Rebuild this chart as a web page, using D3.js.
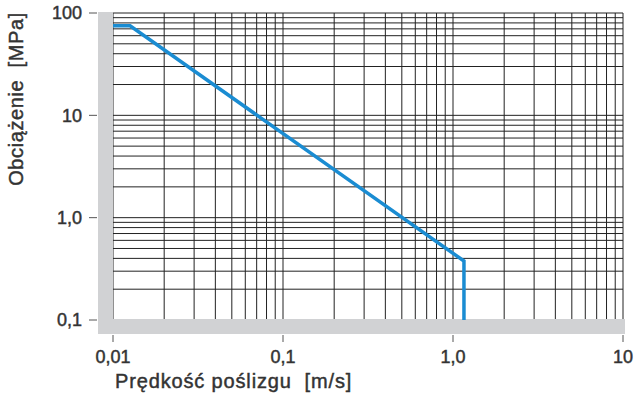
<!DOCTYPE html>
<html lang="pl">
<head>
<meta charset="utf-8">
<title>Obciążenie</title>
<script src="https://cdn.jsdelivr.net/npm/d3@7"></script>
<style>
  body { margin: 0; background: #fff; }
  text { font-family: "Liberation Sans", Arial, Helvetica, sans-serif; fill: #333; stroke: #333; stroke-width: 0.45px; }
</style>
</head>
<body>
<script>
// data
var speed = [0.01, 0.0126, 1.16, 1.16];      // m/s
var load = [75, 75, 0.377, 0.1];              // MPa
var xTicks = [0.01, 0.1, 1, 10];
var xTickLabels = ["0,01", "0,1", "1,0", "10"];
var yTicks = [0.1, 1, 10, 100];
var yTickLabels = ["0,1", "1,0", "10", "100"];

var w = 634, h = 401;
var svg = d3.select("body").append("svg").attr("width", w).attr("height", h);

var x = d3.scaleLog().domain([0.01, 10]).range([113, 623]);
var y = d3.scaleLog().domain([0.1, 100]).range([320, 13]);

// grid values 1..9 per decade
function gridVals(lo, hi) {
  var out = [];
  for (var d = lo; d < hi; d *= 10)
    for (var k = 1; k < 10; k++) out.push(d * k);
  out.push(hi);
  return out;
}

var g = svg.append("g");
g.selectAll(".vg").data(gridVals(0.01, 10)).enter().append("line")
  .attr("x1", d => x(d)).attr("x2", d => x(d))
  .attr("y1", y(100)).attr("y2", y(0.1))
  .attr("stroke", "#222").attr("stroke-width", 1);
g.selectAll(".hg").data(gridVals(0.1, 100)).enter().append("line")
  .attr("y1", d => y(d)).attr("y2", d => y(d))
  .attr("x1", x(0.01)).attr("x2", x(10))
  .attr("stroke", "#222").attr("stroke-width", 1);

// grey bands along the axes
svg.append("rect").attr("x", 98).attr("y", 12).attr("width", 15).attr("height", 322).attr("fill", "#d1d2d4");
svg.append("rect").attr("x", 98).attr("y", 319).attr("width", 527).attr("height", 15).attr("fill", "#d1d2d4");

// curve
var line = d3.line().x((d, i) => x(speed[i])).y((d, i) => y(load[i]));
svg.append("path").datum(speed).attr("d", line)
  .attr("fill", "none").attr("stroke", "#1a8cd2").attr("stroke-width", 3.5)
  .attr("stroke-linejoin", "miter");

// y axis ticks + labels
var yAx = svg.append("g");
yAx.selectAll("line").data(yTicks).enter().append("line")
  .attr("x1", 89).attr("x2", 97).attr("y1", d => y(d)).attr("y2", d => y(d))
  .attr("stroke", "#555").attr("stroke-width", 1);
yAx.selectAll("text").data(yTicks).enter().append("text")
  .attr("x", 82).attr("y", d => y(d)).attr("dy", "0.36em")
  .attr("text-anchor", "end").attr("font-size", "18px")
  .text((d, i) => yTickLabels[i]);

// x axis ticks + labels
var xAx = svg.append("g");
xAx.selectAll("line").data(xTicks).enter().append("line")
  .attr("x1", d => x(d)).attr("x2", d => x(d)).attr("y1", 335).attr("y2", 342)
  .attr("stroke", "#555").attr("stroke-width", 1);
xAx.selectAll("text").data(xTicks).enter().append("text")
  .attr("x", d => x(d)).attr("y", 363)
  .attr("text-anchor", "middle").attr("font-size", "18px")
  .text((d, i) => xTickLabels[i]);

// titles
svg.append("text").attr("x", 115).attr("y", 388)
  .attr("font-size", "20px").attr("letter-spacing", "0.85px")
  .style("white-space", "pre")
  .text("Prędkość poślizgu  [m/s]");
svg.append("text").attr("transform", "translate(23,99) rotate(-90)")
  .attr("text-anchor", "middle")
  .attr("font-size", "20px").attr("letter-spacing", "0.6px")
  .style("white-space", "pre")
  .text("Obciążenie  [MPa]");
</script>
</body>
</html>
